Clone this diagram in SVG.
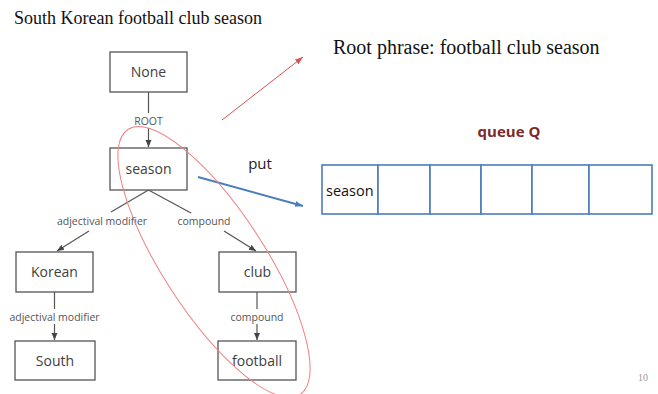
<svg xmlns="http://www.w3.org/2000/svg" width="658" height="394" viewBox="0 0 658 394">
<style>
.node rect{fill:#fff;stroke:#555;stroke-width:1.3}
.node text{font-family:"Open Sans","Noto Sans",sans-serif;font-size:14px;fill:#404040;text-anchor:middle}
.edge{stroke:#555;stroke-width:1.2;fill:none}
.elab{font-family:"Open Sans","Noto Sans",sans-serif;font-size:10.5px;fill:#555;text-anchor:middle}
.serif{font-family:"Liberation Serif",serif;fill:#111}
.q{fill:#fff;stroke:#4a7ebb;stroke-width:1.6}
</style>
<defs>
<marker id="ah" markerWidth="8" markerHeight="8" refX="7" refY="4" orient="auto" markerUnits="userSpaceOnUse"><path d="M0,1 L7,4 L0,7 Z" fill="#444"/></marker>
<marker id="red" markerWidth="10" markerHeight="10" refX="8" refY="4" orient="auto" markerUnits="userSpaceOnUse"><path d="M0,1 L8,4 L0,7 Z" fill="#d9534f"/></marker>
<marker id="blue" markerWidth="10" markerHeight="10" refX="8" refY="4" orient="auto" markerUnits="userSpaceOnUse"><path d="M0,1 L8,4 L0,7 Z" fill="#4a7ebb"/></marker>
</defs>
<rect width="658" height="394" fill="#fff"/>
<text class="serif" x="14" y="24" font-size="18">South Korean football club season</text>
<text class="serif" x="333" y="54" font-size="20">Root phrase: football club season</text>
<text x="648" y="381" font-family="Liberation Serif,serif" font-size="10" fill="#999" text-anchor="end">10</text>

<g id="connectors">
<line class="edge" x1="148.5" y1="92" x2="148.5" y2="113"/>
<line class="edge" x1="148.5" y1="128" x2="148.5" y2="147" marker-end="url(#ah)"/>
<text class="elab" x="148.5" y="125">ROOT</text>
<line class="edge" x1="148.5" y1="190" x2="111" y2="212"/>
<line class="edge" x1="89" y1="231" x2="57" y2="251" marker-end="url(#ah)"/>
<text class="elab" x="102" y="225">adjectival modifier</text>
<line class="edge" x1="148.5" y1="190" x2="191" y2="213"/>
<line class="edge" x1="224" y1="231" x2="256" y2="251" marker-end="url(#ah)"/>
<text class="elab" x="204" y="225">compound</text>
<line class="edge" x1="54.5" y1="292" x2="54.5" y2="309"/>
<line class="edge" x1="54.5" y1="324" x2="54.5" y2="340" marker-end="url(#ah)"/>
<text class="elab" x="54.5" y="321">adjectival modifier</text>
<line class="edge" x1="257" y1="292" x2="257" y2="309"/>
<line class="edge" x1="257" y1="324" x2="257" y2="340" marker-end="url(#ah)"/>
<text class="elab" x="257" y="321">compound</text>
<line x1="222" y1="120" x2="303" y2="57" stroke="#d9534f" stroke-width="1" marker-end="url(#red)"/>
<line x1="198" y1="177" x2="303" y2="206" stroke="#4a7ebb" stroke-width="2" marker-end="url(#blue)"/>
</g>

<g id="node-none" class="node"><rect x="110" y="52" width="77" height="40"/><text x="148.5" y="77">None</text></g>
<g id="node-season" class="node"><rect x="110" y="148" width="77" height="42"/><text x="148.5" y="174">season</text></g>
<g id="node-korean" class="node"><rect x="16" y="252" width="77" height="40"/><text x="54.5" y="277">Korean</text></g>
<g id="node-south" class="node"><rect x="15" y="341" width="80" height="39"/><text x="55" y="366">South</text></g>
<g id="node-club" class="node"><rect x="219" y="252" width="77" height="40"/><text x="257.5" y="277">club</text></g>
<g id="node-football" class="node"><rect x="218" y="341" width="78" height="39"/><text x="257" y="366">football</text></g>

<ellipse cx="214" cy="262" rx="158" ry="51" transform="rotate(57 214 262)" fill="none" stroke="#f08080" stroke-width="1"/>

<text x="260" y="169" font-family="Open Sans,Noto Sans,sans-serif" font-size="15" fill="#222" text-anchor="middle">put</text>
<text x="509" y="137" font-family="Open Sans,Noto Sans,sans-serif" font-size="15" font-weight="bold" fill="#7a2a2a" text-anchor="middle">queue Q</text>

<g id="queue">
<rect class="q" x="322" y="165" width="56" height="49"/>
<rect class="q" x="378" y="165" width="52" height="49"/>
<rect class="q" x="430" y="165" width="51" height="49"/>
<rect class="q" x="481" y="165" width="51" height="49"/>
<rect class="q" x="532" y="165" width="57" height="49"/>
<rect class="q" x="589" y="165" width="63" height="49"/>
<text x="326" y="196" font-family="Open Sans,Noto Sans,sans-serif" font-size="14.5" fill="#111">season</text>
</g>
</svg>
